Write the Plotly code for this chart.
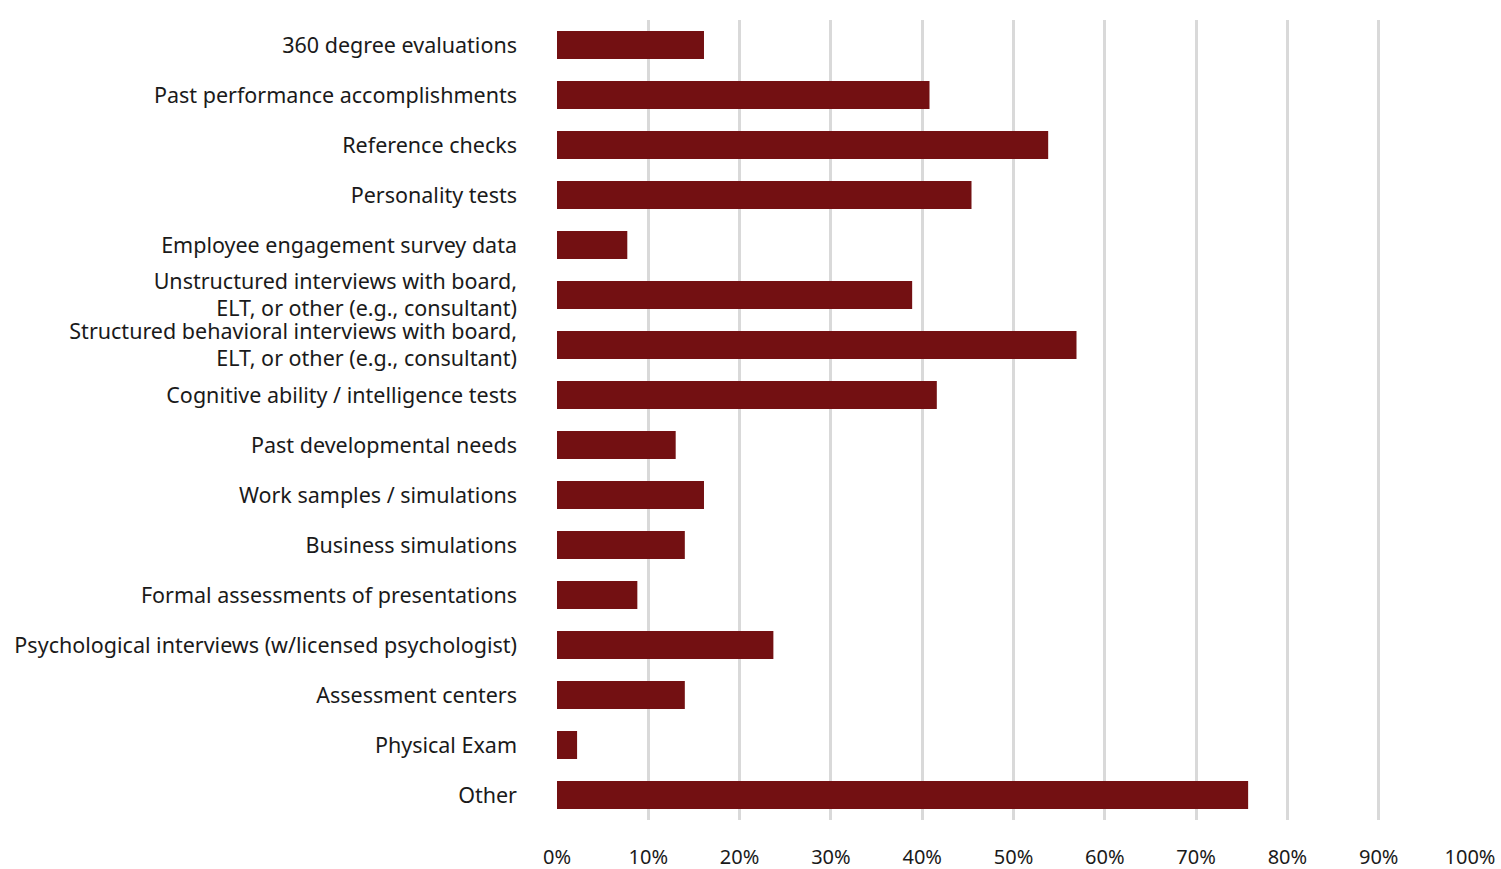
import plotly.graph_objects as go

categories = [
    "360 degree evaluations",
    "Past performance accomplishments",
    "Reference checks",
    "Personality tests",
    "Employee engagement survey data",
    "Unstructured interviews with board,<br>ELT, or other (e.g., consultant)",
    "Structured behavioral interviews with board,<br>ELT, or other (e.g., consultant)",
    "Cognitive ability / intelligence tests",
    "Past developmental needs",
    "Work samples / simulations",
    "Business simulations",
    "Formal assessments of presentations",
    "Psychological interviews (w/licensed psychologist)",
    "Assessment centers",
    "Physical Exam",
    "Other",
]
values = [0.161, 0.408, 0.538, 0.454, 0.077, 0.389, 0.569, 0.416,
          0.130, 0.161, 0.140, 0.088, 0.237, 0.140, 0.022, 0.757]
tick_vals = [0, 0.1, 0.2, 0.3, 0.4, 0.5, 0.6, 0.7, 0.8, 0.9, 1.0]
tick_text = ["0%", "10%", "20%", "30%", "40%", "50%", "60%", "70%", "80%", "90%", "100%"]

fig = go.Figure(go.Bar(
    x=values, y=categories, orientation="h",
    marker=dict(color="#731012", line=dict(width=0)),
    hoverinfo="x+y",
))

fig.update_layout(
    width=1501, height=869,
    margin=dict(l=557, r=31, t=20, b=49, autoexpand=False),
    paper_bgcolor="white", plot_bgcolor="white",
    bargap=0.44,
    font=dict(family="Noto Sans, sans-serif", size=21.5, color="#1a1a1a"),
    showlegend=False,
    xaxis=dict(
        range=[0, 1], tickvals=tick_vals, ticktext=tick_text,
        tickfont=dict(size=20),
        showgrid=True, gridcolor="#d9d9d9", gridwidth=3,
        zeroline=False, showline=False, ticks="",
        ticklabelstandoff=23, automargin=False,
    ),
    yaxis=dict(
        autorange="reversed", showgrid=False, zeroline=False, showline=False,
        ticks="", ticklabelstandoff=39, automargin=False,
    ),
)

fig.write_html(
    "out.html",
    config={"displayModeBar": False},
    post_script="document.body.style.margin='0';document.body.style.overflow='hidden';",
)
